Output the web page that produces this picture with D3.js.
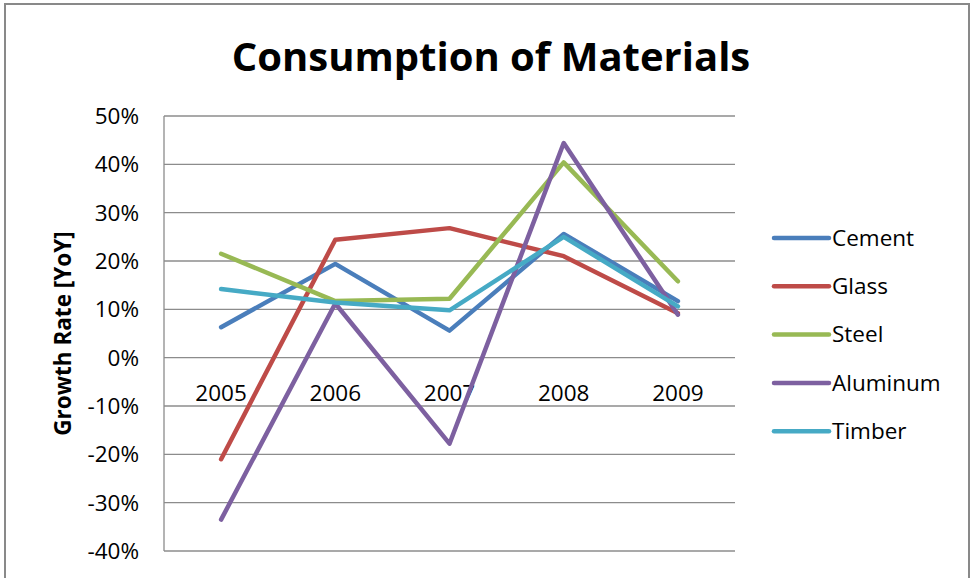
<!DOCTYPE html>
<html lang="en">
<head>
  <meta charset="UTF-8">
  <title>Consumption of Materials</title>
  <script src="https://d3js.org/d3.v7.min.js"></script>
  <style>
    body { margin:0; background:#fff; overflow:hidden; }
    svg { display:block; }
    text { font-family: "Open Sans", sans-serif; fill:#000; }
  </style>
</head>
<body>
<svg width="971" height="578"></svg>
<script>
// data (growth rate, % YoY)
const years = ['2005', '2006', '2007', '2008', '2009'];
const materials = ['Cement', 'Glass', 'Steel', 'Aluminum', 'Timber'];
const cement   = [6.3, 19.4, 5.6, 25.6, 11.7];
const glass    = [-21.0, 24.4, 26.8, 21.0, 9.2];
const steel    = [21.5, 11.7, 12.2, 40.4, 15.8];
const aluminum = [-33.5, 11.2, -17.8, 44.4, 8.9];
const timber   = [14.2, 11.4, 9.8, 25.0, 10.6];
const yTicks = [50, 40, 30, 20, 10, 0, -10, -20, -30, -40];
const colors = ['#4a7ebb', '#be4b48', '#98b954', '#7d60a0', '#46aac5'];

const seriesValues = [cement, glass, steel, aluminum, timber];
const series = materials.map((m, i) => ({ name: m, values: seriesValues[i], color: colors[i] }));

const svg = d3.select('svg');
const W = 971, H = 578;

// outer chart frame (bottom is cut off in the screenshot)
svg.append('rect')
  .attr('x', 5).attr('y', 4)
  .attr('width', 964).attr('height', H + 20)
  .attr('fill', '#fff')
  .attr('stroke', '#898989')
  .attr('stroke-width', 2);

// plot area
const plot = { left: 164, right: 735, top: 116, bottom: 551 };

const x = d3.scaleBand()
  .domain(years)
  .range([plot.left, plot.right]);

const y = d3.scaleLinear()
  .domain([-40, 50])
  .range([plot.bottom, plot.top]);

// gridlines
svg.append('g')
  .selectAll('line')
  .data(yTicks)
  .join('line')
  .attr('x1', plot.left).attr('x2', plot.right)
  .attr('y1', d => y(d)).attr('y2', d => y(d))
  .attr('stroke', '#8c8c8c')
  .attr('stroke-width', 1.3);

// vertical axis line
svg.append('line')
  .attr('x1', plot.left).attr('x2', plot.left)
  .attr('y1', plot.top).attr('y2', plot.bottom)
  .attr('stroke', '#8c8c8c')
  .attr('stroke-width', 1.3);

// y tick labels
svg.append('g')
  .selectAll('text')
  .data(yTicks)
  .join('text')
  .attr('x', 139)
  .attr('y', d => y(d))
  .attr('dy', '0.35em')
  .attr('text-anchor', 'end')
  .style('font-size', '22.5px')
  .text(d => d + '%');

// category labels sit just under the 0% line
svg.append('g')
  .selectAll('text')
  .data(years)
  .join('text')
  .attr('x', d => x(d) + x.bandwidth() / 2)
  .attr('y', y(0) + 43)
  .attr('text-anchor', 'middle')
  .style('font-size', '22.5px')
  .text(d => d);

// y axis title
svg.append('text')
  .attr('transform', `translate(71, ${(plot.top + plot.bottom) / 2}) rotate(-90)`)
  .attr('text-anchor', 'middle')
  .style('font-size', '22.5px')
  .style('font-weight', 'bold')
  .text('Growth Rate [YoY]');

// chart title
svg.append('text')
  .attr('x', 491)
  .attr('y', 71)
  .attr('text-anchor', 'middle')
  .style('font-size', '40px')
  .style('font-weight', 'bold')
  .text('Consumption of Materials');

// series lines
const line = d3.line()
  .x((d, i) => x(years[i]) + x.bandwidth() / 2)
  .y(d => y(d));

svg.append('g')
  .selectAll('path')
  .data(series)
  .join('path')
  .attr('d', d => line(d.values))
  .attr('fill', 'none')
  .attr('stroke', d => d.color)
  .attr('stroke-width', 4.5)
  .attr('stroke-linejoin', 'round')
  .attr('stroke-linecap', 'round');

// legend
const legend = svg.append('g')
  .selectAll('g')
  .data(series)
  .join('g')
  .attr('transform', (d, i) => `translate(774, ${238 + i * 48.3})`);

legend.append('line')
  .attr('x1', 0).attr('x2', 55)
  .attr('stroke', d => d.color)
  .attr('stroke-width', 4.5)
  .attr('stroke-linecap', 'round');

legend.append('text')
  .attr('x', 58)
  .attr('dy', '0.35em')
  .style('font-size', '22.5px')
  .text(d => d.name);
</script>
</body>
</html>
